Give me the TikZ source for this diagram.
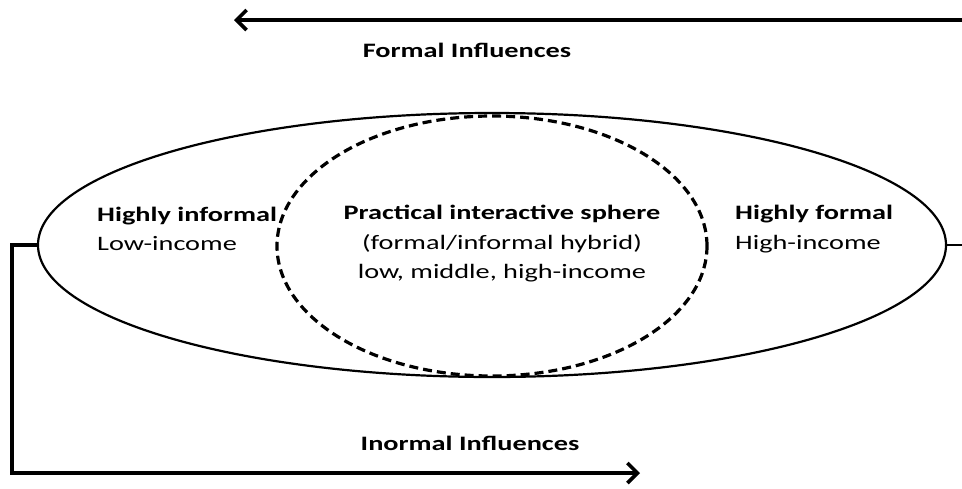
\documentclass[tikz,border=0pt]{standalone}
\usepackage{fontspec}
\setmainfont{Carlito}[FakeStretch=1.38]
\usetikzlibrary{shapes.geometric,arrows.meta}
\begin{document}
\begin{tikzpicture}[x=1pt,y=-1pt,
  txt/.style={font=\fontsize{20.5}{29.5}\selectfont, inner sep=0pt},
  heavy/.style={line width=3.6pt},
  tip/.style={-{Straight Barb[length=10pt,width=20pt,line width=3.6pt]}},
]
\useasboundingbox (0,0) rectangle (962,488);
\node[ellipse, draw, line width=2.2pt, minimum width=908pt, minimum height=264pt, inner sep=0pt] (outer) at (492,245) {};
\node[ellipse, draw, line width=3.2pt, dash pattern=on 9pt off 5pt, minimum width=430pt, minimum height=260pt, inner sep=0pt] (inner) at (492,246) {};

\coordinate (topR) at (962,20);
\coordinate (topL) at (234,20);
\coordinate (rightEnd) at (962,245);
\coordinate (corner) at (12,473);
\coordinate (botEnd) at (640,473);

\draw[heavy, tip] (topR) -- (topL);
\draw[line width=2.5pt] (outer.east) -- (rightEnd);
\draw[heavy, tip] (outer.west) -| (corner) -- (botEnd);

\node[txt, font=\fontsize{20.5}{29.5}\selectfont\bfseries] (formal) at (467,50) {Formal Influences};
\node[txt, font=\fontsize{20.5}{29.5}\selectfont\bfseries] (informal) at (470,443) {Inormal Influences};

\node[txt, align=left, anchor=west] (left) at (97,229) {\textbf{Highly informal}\\Low-income};
\node[txt, align=center] (mid) at (502,244) {\textbf{Practical interactive sphere}\\(formal/informal hybrid)\\low, middle, high-income};
\node[txt, align=left, anchor=west] (right) at (735,229) {\textbf{Highly formal}\\High-income};
\end{tikzpicture}
\end{document}
